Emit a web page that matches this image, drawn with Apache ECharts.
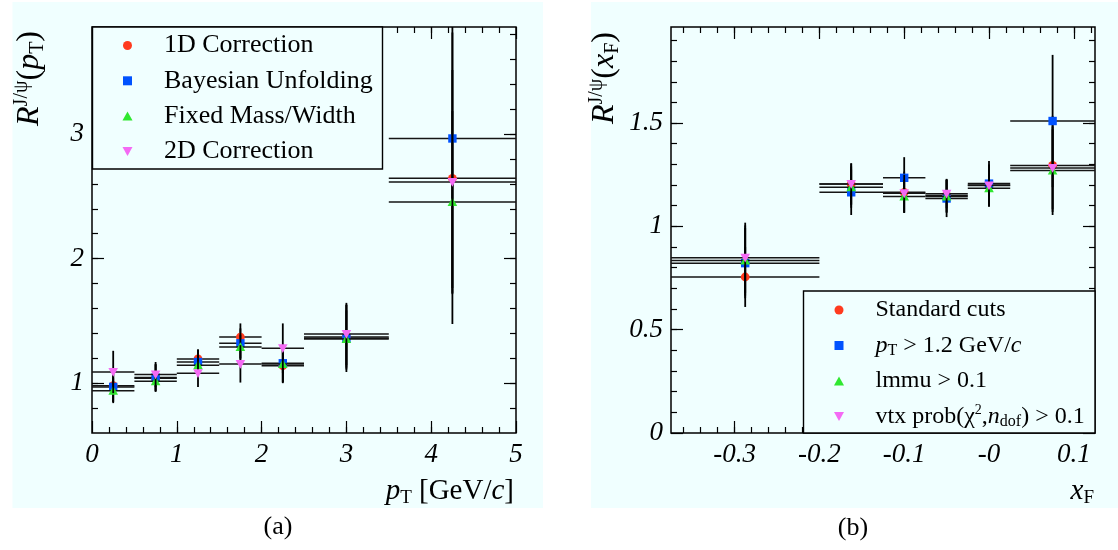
<!DOCTYPE html>
<html><head><meta charset="utf-8">
<script src="https://cdn.jsdelivr.net/npm/echarts@6/dist/echarts.min.js"></script>
<style>html,body{margin:0;padding:0;background:#fff}#c{width:1118px;height:550px}</style>
</head><body><div id="c"></div>
<script>
// ---------- Panel (a): R vs pT ----------
const ptCenters = [0.25, 0.75, 1.25, 1.75, 2.25, 3.0, 4.25];
const ptHalfWidths = [0.25, 0.25, 0.25, 0.25, 0.25, 0.5, 0.75];
const pt1DCorrection = [0.98, 1.04, 1.195, 1.37, 1.14, 1.37, 2.645];
const pt1DCorrectionErr = [0.13, 0.11, 0.075, 0.11, 0.14, 0.26, 1.17];
const ptBayesian = [0.97, 1.045, 1.17, 1.32, 1.16, 1.36, 2.965];
const ptBayesianErr = [0.12, 0.11, 0.1, 0.12, 0.15, 0.27, 1.2];
const ptFixedMass = [0.94, 1.015, 1.145, 1.29, 1.155, 1.355, 2.455];
const ptFixedMassErr = [0.1, 0.075, 0.08, 0.1, 0.15, 0.23, 0.73];
const pt2DCorrection = [1.09, 1.07, 1.08, 1.155, 1.28, 1.395, 2.615];
const pt2DCorrectionErr = [0.17, 0.1, 0.11, 0.15, 0.2, 0.25, 0.9];
const ptXTickValues = [0, 1, 2, 3, 4, 5];
const ptXTickLabels = ['0', '1', '2', '3', '4', '5'];
const ptYTickValues = [1, 2, 3];
const ptYTickLabels = ['1', '2', '3'];

// ---------- Panel (b): R vs xF ----------
const xfCenters = [-0.2875, -0.1625, -0.1, -0.05, 0, 0.075];
const xfHalfWidths = [0.0875, 0.0375, 0.025, 0.025, 0.025, 0.05];
const xfStandard = [0.755, 1.205, 1.165, 1.15, 1.2, 1.295];
const xfStandardErr = [0.145, 0.1, 0.1, 0.08, 0.1, 0.24];
const xfPtCut = [0.822, 1.165, 1.235, 1.135, 1.207, 1.51];
const xfPtCutErr = [0.17, 0.11, 0.1, 0.09, 0.11, 0.32];
const xfLmmu = [0.835, 1.19, 1.145, 1.145, 1.185, 1.27];
const xfLmmuErr = [0.17, 0.1, 0.08, 0.08, 0.09, 0.2];
const xfVtx = [0.848, 1.205, 1.16, 1.158, 1.198, 1.283];
const xfVtxErr = [0.17, 0.1, 0.09, 0.07, 0.1, 0.2];
const xfXTickValues = [-0.3, -0.2, -0.1, 0, 0.1];
const xfXTickLabels = ['-0.3', '-0.2', '-0.1', '-0', '0.1'];
const xfYTickValues = [0, 0.5, 1, 1.5];
const xfYTickLabels = ['0', '0.5', '1', '1.5'];

const F = 'Liberation Serif';
const RED = '#ff3b1f', BLUE = '#0052ff', GREEN = '#30e830', MAG = '#f46af4';
const BG = '#f0ffff';

function steps(from, to, step) {
  const out = [];
  for (let v = from; v <= to + 1e-9; v += step) out.push(Math.round(v * 1000) / 1000);
  return out;
}

function axes(dim, grid, min, max, majors, labels, minors) {
  const posA = dim === 'x' ? 'bottom' : 'left';
  const posB = dim === 'x' ? 'top' : 'right';
  const base = {
    type: 'value', gridIndex: grid, min: min, max: max,
    axisLine: { show: false, onZero: false }, splitLine: { show: false }
  };
  const fmt = function (v) {
    const i = majors.findIndex(function (m) { return Math.abs(m - v) < 1e-9; });
    return i >= 0 ? labels[i] : '';
  };
  const mk = function (pos, vals, len, withLabel) {
    return Object.assign({}, base, {
      position: pos,
      axisTick: { show: true, inside: true, length: len, customValues: vals,
        lineStyle: { color: '#000', width: 1.2 } },
      axisLabel: withLabel ? {
        show: true, customValues: majors, formatter: fmt, color: '#000',
        fontFamily: F, fontStyle: 'italic', fontSize: 27, margin: 8,
        showMinLabel: true, showMaxLabel: true, hideOverlap: false
      } : { show: false }
    });
  };
  return [mk(posA, majors, 12, true), mk(posA, minors, 6, false),
          mk(posB, majors, 12, false), mk(posB, minors, 6, false)];
}

function build(centers, half, vals, errs) {
  return centers.map(function (c, i) { return [c, vals[i], half[i], errs[i]]; });
}

function renderer(shape, color) {
  return function (params, api) {
    const x = api.value(0), y = api.value(1), ex = api.value(2), ey = api.value(3);
    const cs = params.coordSys;
    const c = api.coord([x, y]);
    const l = api.coord([x - ex, y]), r = api.coord([x + ex, y]);
    const t = api.coord([x, y + ey]), b = api.coord([x, y - ey]);
    const x1 = Math.max(l[0], cs.x), x2 = Math.min(r[0], cs.x + cs.width);
    const y1 = Math.max(t[1], cs.y), y2 = Math.min(b[1], cs.y + cs.height);
    const cx = c[0], cy = c[1];
    let marker;
    if (shape === 'circle') {
      marker = { type: 'circle', shape: { cx: cx, cy: cy, r: 4.4 }, style: { fill: color } };
    } else if (shape === 'square') {
      marker = { type: 'rect', shape: { x: cx - 4.2, y: cy - 4.2, width: 8.4, height: 8.4 }, style: { fill: color } };
    } else if (shape === 'up') {
      marker = { type: 'polygon', shape: { points: [[cx - 4.8, cy + 4], [cx + 4.8, cy + 4], [cx, cy - 4.8]] }, style: { fill: color } };
    } else {
      marker = { type: 'polygon', shape: { points: [[cx - 4.8, cy - 4], [cx + 4.8, cy - 4], [cx, cy + 4.8]] }, style: { fill: color } };
    }
    return {
      type: 'group',
      children: [
        { type: 'line', shape: { x1: x1, y1: cy, x2: x2, y2: cy }, style: { stroke: '#151515', lineWidth: 1.5 } },
        { type: 'line', shape: { x1: cx, y1: y1, x2: cx, y2: y2 }, style: { stroke: '#000', lineWidth: 1.8 } },
        marker
      ]
    };
  };
}

function series(name, xi, yi, data, shape, color) {
  return {
    type: 'custom', name: name, xAxisIndex: xi, yAxisIndex: yi, data: data,
    renderItem: renderer(shape, color), itemStyle: { color: color },
    silent: true, clip: true, z: 2
  };
}

const xAxes = [].concat(
  axes('x', 0, 0, 5, ptXTickValues, ptXTickLabels, steps(0.2, 4.8, 0.2)),
  axes('x', 1, -0.375, 0.125, xfXTickValues, xfXTickLabels, steps(-0.36, 0.12, 0.02))
);
const yAxes = [].concat(
  axes('y', 0, 0.6, 3.86, ptYTickValues, ptYTickLabels, steps(0.8, 3.8, 0.2)),
  axes('y', 1, 0, 1.965, xfYTickValues, xfYTickLabels, steps(0.1, 1.9, 0.1))
);

const titleRich = {
  i: { fontFamily: F, fontStyle: 'italic', fontSize: 32, color: '#000', lineHeight: 36 },
  n: { fontFamily: F, fontSize: 32, color: '#000', lineHeight: 36 },
  sup: { fontFamily: F, fontSize: 20, color: '#000', verticalAlign: 'top', lineHeight: 17 },
  sub: { fontFamily: F, fontSize: 20, color: '#000', verticalAlign: 'bottom', lineHeight: 15 }
};
const xTitleRich = {
  i: { fontFamily: F, fontStyle: 'italic', fontSize: 29, color: '#000', lineHeight: 33 },
  n: { fontFamily: F, fontSize: 29, color: '#000', lineHeight: 33 },
  sub: { fontFamily: F, fontSize: 19, color: '#000', verticalAlign: 'bottom', lineHeight: 13 }
};
function legRich(fs) {
  const lh = fs + 2;
  return {
    n: { fontFamily: F, fontSize: fs, color: '#000', lineHeight: lh },
    i: { fontFamily: F, fontStyle: 'italic', fontSize: fs, color: '#000', lineHeight: lh },
    sub: { fontFamily: F, fontSize: Math.round(fs * 0.67), color: '#000', verticalAlign: 'bottom', lineHeight: 12 },
    sup: { fontFamily: F, fontSize: Math.round(fs * 0.6), color: '#000', verticalAlign: 'top', lineHeight: 12 }
  };
}
const legLabels = {
  '1D Correction': '{n|1D Correction}',
  'Bayesian Unfolding': '{n|Bayesian Unfolding}',
  'Fixed Mass/Width': '{n|Fixed Mass/Width}',
  '2D Correction': '{n|2D Correction}',
  'Standard cuts': '{n|Standard cuts}',
  'pT > 1.2 GeV/c': '{i|p}{sub|T}{n| > 1.2 GeV/}{i|c}',
  'lmmu > 0.1': '{n|lmmu > 0.1}',
  'vtx prob(chi2,ndof) > 0.1': '{n|vtx prob(χ}{sup|2}{n|,}{i|n}{sub|dof}{n|) > 0.1}'
};
const ICON_CIRCLE = 'circle';
const ICON_SQUARE = 'path://M0,0L10,0L10,10L0,10Z';
const ICON_UP = 'path://M5,0L10,9L0,9Z';
const ICON_DOWN = 'path://M0,0L10,0L5,9Z';
function legend(items, left, top, fs, gap) {
  return {
    orient: 'vertical', left: left, top: top, padding: 0, align: 'left',
    itemWidth: 63, itemHeight: 9, itemGap: gap, selectedMode: false, z: 10,
    data: items,
    formatter: function (n) { return legLabels[n]; },
    textStyle: { fontFamily: F, fontSize: fs, color: '#000', lineHeight: fs + 2, rich: legRich(fs) }
  };
}

const option = {
  animation: false,
  backgroundColor: '#fff',
  grid: [
    { left: 92, top: 27, width: 424, height: 406, show: true, borderColor: '#000', borderWidth: 1.5,
      backgroundColor: 'transparent', containLabel: false, outerBoundsMode: 'none' },
    { left: 671, top: 27, width: 424, height: 406, show: true, borderColor: '#000', borderWidth: 1.5,
      backgroundColor: 'transparent', containLabel: false, outerBoundsMode: 'none' }
  ],
  xAxis: xAxes,
  yAxis: yAxes,
  legend: [
    legend([
      { name: '1D Correction', icon: ICON_CIRCLE, itemStyle: { color: RED } },
      { name: 'Bayesian Unfolding', icon: ICON_SQUARE, itemStyle: { color: BLUE } },
      { name: 'Fixed Mass/Width', icon: ICON_UP, itemStyle: { color: GREEN } },
      { name: '2D Correction', icon: ICON_DOWN, itemStyle: { color: MAG } }
    ], 122.5, 31.5, 26, 7.3),
    legend([
      { name: 'Standard cuts', icon: ICON_CIRCLE, itemStyle: { color: RED } },
      { name: 'pT > 1.2 GeV/c', icon: ICON_SQUARE, itemStyle: { color: BLUE } },
      { name: 'lmmu > 0.1', icon: ICON_UP, itemStyle: { color: GREEN } },
      { name: 'vtx prob(chi2,ndof) > 0.1', icon: ICON_DOWN, itemStyle: { color: MAG } }
    ], 834, 297, 24, 9.5)
  ],
  graphic: [
    { type: 'rect', z: -10, shape: { x: 12.5, y: 2, width: 530.5, height: 506 }, style: { fill: BG } },
    { type: 'rect', z: -10, shape: { x: 591, y: 2, width: 527, height: 506 }, style: { fill: BG } },
    { type: 'rect', z: 5, shape: { x: 92.5, y: 27, width: 290, height: 142 }, style: { fill: BG, stroke: '#000', lineWidth: 1.4 } },
    { type: 'rect', z: 5, shape: { x: 803.5, y: 291, width: 291.5, height: 142 }, style: { fill: BG, stroke: '#000', lineWidth: 1.4 } },
    { type: 'text', z: 5, x: 30, y: 31, rotation: Math.PI / 2,
      style: { text: '{i|R}{sup|J/ψ}{n|(}{i|p}{sub|T}{n|)}', rich: titleRich, align: 'right', verticalAlign: 'middle' } },
    { type: 'text', z: 5, x: 605, y: 32, rotation: Math.PI / 2,
      style: { text: '{i|R}{sup|J/ψ}{n|(}{i|x}{sub|F}{n|)}', rich: titleRich, align: 'right', verticalAlign: 'middle' } },
    { type: 'text', z: 5, x: 514, y: 491,
      style: { text: '{i|p}{sub|T}{n| [GeV/}{i|c}{n|]}', rich: xTitleRich, align: 'right', verticalAlign: 'middle' } },
    { type: 'text', z: 5, x: 1094, y: 491,
      style: { text: '{i|x}{sub|F}', rich: xTitleRich, align: 'right', verticalAlign: 'middle' } },
    { type: 'text', z: 5, x: 278, y: 527,
      style: { text: '(a)', fontFamily: F, fontSize: 26, fill: '#000', align: 'center', verticalAlign: 'middle' } },
    { type: 'text', z: 5, x: 853, y: 528,
      style: { text: '(b)', fontFamily: F, fontSize: 26, fill: '#000', align: 'center', verticalAlign: 'middle' } }
  ],
  series: [
    series('1D Correction', 0, 0, build(ptCenters, ptHalfWidths, pt1DCorrection, pt1DCorrectionErr), 'circle', RED),
    series('Bayesian Unfolding', 0, 0, build(ptCenters, ptHalfWidths, ptBayesian, ptBayesianErr), 'square', BLUE),
    series('Fixed Mass/Width', 0, 0, build(ptCenters, ptHalfWidths, ptFixedMass, ptFixedMassErr), 'up', GREEN),
    series('2D Correction', 0, 0, build(ptCenters, ptHalfWidths, pt2DCorrection, pt2DCorrectionErr), 'down', MAG),
    series('Standard cuts', 4, 4, build(xfCenters, xfHalfWidths, xfStandard, xfStandardErr), 'circle', RED),
    series('pT > 1.2 GeV/c', 4, 4, build(xfCenters, xfHalfWidths, xfPtCut, xfPtCutErr), 'square', BLUE),
    series('lmmu > 0.1', 4, 4, build(xfCenters, xfHalfWidths, xfLmmu, xfLmmuErr), 'up', GREEN),
    series('vtx prob(chi2,ndof) > 0.1', 4, 4, build(xfCenters, xfHalfWidths, xfVtx, xfVtxErr), 'down', MAG)
  ]
};

const chart = echarts.init(document.getElementById('c'), null, { renderer: 'canvas' });
chart.setOption(option);
</script>
</body></html>
